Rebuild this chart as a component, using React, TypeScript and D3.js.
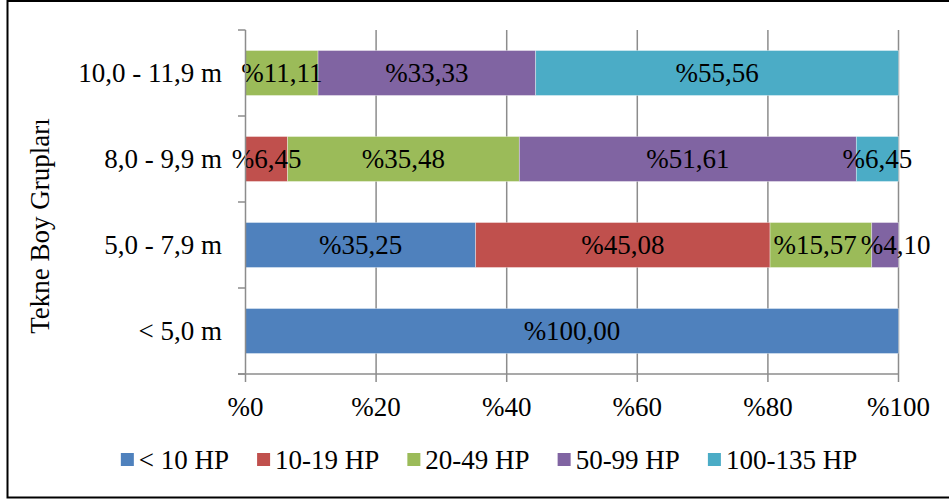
import React, { useEffect, useRef } from "react";
import * as d3 from "d3";

const categories = ["10,0 - 11,9 m", "8,0 - 9,9 m", "5,0 - 7,9 m", "< 5,0 m"];
const seriesNames = ["< 10 HP", "10-19 HP", "20-49 HP", "50-99 HP", "100-135 HP"];
const seriesColors = ["#4F81BD", "#C0504D", "#9BBB59", "#8064A2", "#4BACC6"];
// values per category, in series order
const lt10 = [0, 0, 35.25, 100];
const hp10_19 = [0, 6.45, 45.08, 0];
const hp20_49 = [11.11, 35.48, 15.57, 0];
const hp50_99 = [33.33, 51.61, 4.1, 0];
const hp100_135 = [55.56, 6.45, 0, 0];
const xTicks = [0, 20, 40, 60, 80, 100];

const W = 949;
const H = 499;
const FONT = "'Liberation Serif', 'Times New Roman', serif";
const FS = 27;

function fmt(v: number) {
  return "%" + v.toFixed(2).replace(".", ",");
}

export default function App() {
  const ref = useRef<SVGSVGElement | null>(null);

  useEffect(() => {
    const svg = d3.select(ref.current);
    svg.selectAll("*").remove();

    const seriesVals = [lt10, hp10_19, hp20_49, hp50_99, hp100_135];
    const rows = categories.map((c, i) => {
      const r: any = { cat: c };
      seriesNames.forEach((s, j) => (r[s] = seriesVals[j][i]));
      return r;
    });
    const stack = d3.stack<any>().keys(seriesNames)(rows);

    const x = d3.scaleLinear().domain([0, 100]).range([245.5, 898.5]);
    const y = d3
      .scaleBand<string>()
      .domain(categories)
      .range([30, 374])
      .paddingInner(0.477)
      .paddingOuter(0.2385);

    svg.append("rect").attr("width", W).attr("height", H).attr("fill", "#fff");

    // gridlines
    svg
      .append("g")
      .selectAll("line")
      .data(xTicks.filter((t) => t > 0))
      .join("line")
      .attr("x1", (d) => x(d))
      .attr("x2", (d) => x(d))
      .attr("y1", 30)
      .attr("y2", 374)
      .attr("stroke", "#8c8c8c")
      .attr("stroke-width", 1.5);

    // bars
    const g = svg.append("g");
    stack.forEach((layer, j) => {
      g.append("g")
        .selectAll("rect")
        .data(layer.filter((d) => d[1] - d[0] > 0))
        .join("rect")
        .attr("x", (d) => x(d[0]))
        .attr("width", (d) => x(d[1]) - x(d[0]))
        .attr("y", (d) => y(d.data.cat)!)
        .attr("height", y.bandwidth())
        .attr("fill", seriesColors[j])
        .attr("stroke", "#ffffff")
        .attr("stroke-opacity", 0.5)
        .attr("stroke-width", 0.7);
    });

    // labels (with simple overlap resolution per row)
    const lg = g.append("g");
    categories.forEach((cat) => {
      const segs: { cx: number; v: number; node?: SVGTextElement; w?: number }[] = [];
      stack.forEach((layer) => {
        const d = layer.find((e) => e.data.cat === cat)!;
        if (d[1] - d[0] > 0) segs.push({ cx: (x(d[0]) + x(d[1])) / 2, v: d[1] - d[0] });
      });
      segs.forEach((s) => {
        const t = lg
          .append("text")
          .attr("x", s.cx)
          .attr("y", y(cat)! + y.bandwidth() / 2)
          .attr("dy", "0.35em")
          .attr("text-anchor", "middle")
          .attr("font-family", FONT)
          .attr("font-size", FS)
          .attr("fill", "#000")
          .text(fmt(s.v));
        s.node = t.node() as SVGTextElement;
        s.w = s.node.getComputedTextLength();
      });
      for (let i = 1; i < segs.length; i++) {
        const a = segs[i - 1];
        const b = segs[i];
        const overlap = a.cx + a.w! / 2 - (b.cx - b.w! / 2) + 4;
        if (overlap > 0) {
          a.cx -= overlap * 0.35;
          b.cx += overlap * 0.65;
          d3.select(a.node!).attr("x", a.cx);
          d3.select(b.node!).attr("x", b.cx);
        }
      }
    });

    // axes
    const axisColor = "#8c8c8c";
    svg
      .append("line")
      .attr("x1", 245.5)
      .attr("x2", 245.5)
      .attr("y1", 30)
      .attr("y2", 374)
      .attr("stroke", axisColor)
      .attr("stroke-width", 1.5);
    const yTickPos = [30, ...categories.map((c) => y(c)! + y.bandwidth() + (y.step() - y.bandwidth()) / 2)];
    svg
      .append("g")
      .selectAll("line")
      .data(yTickPos)
      .join("line")
      .attr("x1", 238)
      .attr("x2", 245.5)
      .attr("y1", (d) => d)
      .attr("y2", (d) => d)
      .attr("stroke", axisColor)
      .attr("stroke-width", 1.5);
    svg
      .append("line")
      .attr("x1", 238)
      .attr("x2", 898.5)
      .attr("y1", 374)
      .attr("y2", 374)
      .attr("stroke", axisColor)
      .attr("stroke-width", 1.5);
    svg
      .append("g")
      .selectAll("line")
      .data(xTicks)
      .join("line")
      .attr("x1", (d) => x(d))
      .attr("x2", (d) => x(d))
      .attr("y1", 374)
      .attr("y2", 382)
      .attr("stroke", axisColor)
      .attr("stroke-width", 1.5);

    svg
      .append("g")
      .selectAll("text")
      .data(xTicks)
      .join("text")
      .attr("x", (d) => x(d))
      .attr("y", 407)
      .attr("dy", "0.35em")
      .attr("text-anchor", "middle")
      .attr("font-family", FONT)
      .attr("font-size", FS)
      .text((d) => "%" + d);

    // category labels
    svg
      .append("g")
      .selectAll("text")
      .data(categories)
      .join("text")
      .attr("x", 222)
      .attr("y", (d) => y(d)! + y.bandwidth() / 2)
      .attr("dy", "0.35em")
      .attr("text-anchor", "end")
      .attr("font-family", FONT)
      .attr("font-size", FS)
      .text((d) => d);

    // y title
    svg
      .append("text")
      .attr("transform", `translate(40, 226) rotate(-90)`)
      .attr("dy", "0.35em")
      .attr("text-anchor", "middle")
      .attr("font-family", FONT)
      .attr("font-size", FS)
      .text("Tekne Boy Grupları");

    // legend
    const leg = svg.append("g");
    const items = seriesNames.map((s, i) => {
      const it = leg.append("g");
      it.append("rect")
        .attr("x", 0)
        .attr("y", -7)
        .attr("width", 13)
        .attr("height", 13)
        .attr("fill", seriesColors[i]);
      const t = it
        .append("text")
        .attr("x", 18)
        .attr("y", 0)
        .attr("dy", "0.35em")
        .attr("font-family", FONT)
        .attr("font-size", FS)
        .text(s);
      const w = 18 + (t.node() as SVGTextElement).getComputedTextLength();
      return { it, w };
    });
    const gap = 28;
    const total = items.reduce((a, b) => a + b.w, 0) + gap * (items.length - 1);
    let cx = 489 - total / 2;
    items.forEach(({ it, w }) => {
      it.attr("transform", `translate(${cx}, 460)`);
      cx += w + gap;
    });

    // outer border
    svg
      .append("path")
      .attr("d", `M ${W + 5} 1 L 7.5 1 L 7.5 497.5 L ${W + 5} 497.5`)
      .attr("fill", "none")
      .attr("stroke", "#000")
      .attr("stroke-width", 2);
  }, []);

  return (
    <div style={{ position: "absolute", left: 0, top: 0 }}>
      <svg ref={ref} width={W} height={H} style={{ display: "block" }} />
    </div>
  );
}
